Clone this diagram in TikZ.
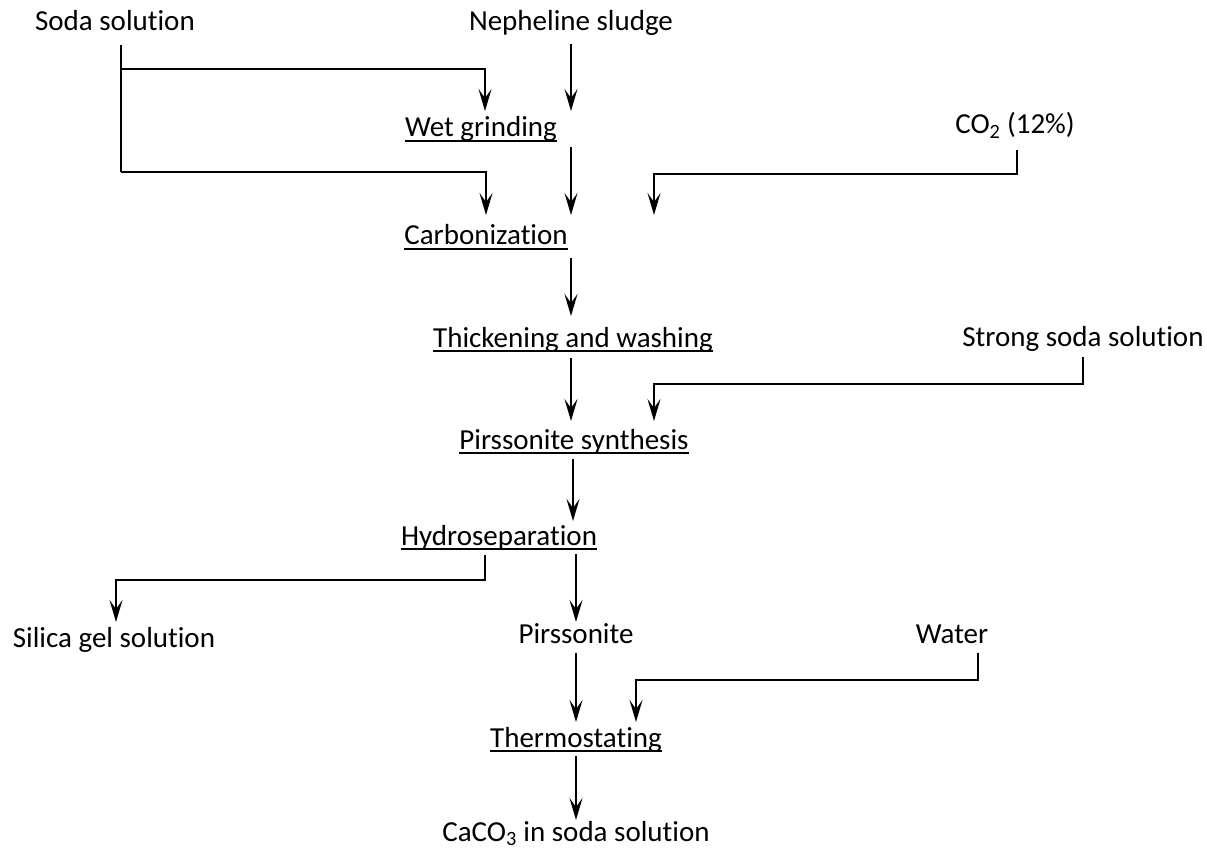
\documentclass[tikz,border=0pt]{standalone}
\usepackage{fontspec}
\setmainfont{Carlito}[Ligatures=NoCommon]
\usetikzlibrary{arrows.meta}
\tikzset{
  lbl/.style={inner sep=0pt, anchor=base, font=\fontsize{29pt}{34pt}\selectfont},
  ln/.style={line width=1.8pt},
  arr/.style={line width=1.8pt, -{Stealth[length=22pt,width=13pt,inset=9pt]}},
  ul/.style={line width=1.8pt}
}
\newcommand{\uln}[1]{\draw[ul] ([yshift=-4pt]#1.base west) -- ([yshift=-4pt]#1.base east);}
\begin{document}
\begin{tikzpicture}[x=1pt,y=-1pt]
\useasboundingbox (0,0) rectangle (1207,850);
% texts
\node[lbl] (soda) at (115,31) {Soda solution};
\node[lbl] (neph) at (571,31) {Nepheline sludge};
\node[lbl] (wet) at (481,137) {Wet grinding};
\node[lbl] (co2) at (1015,134) {CO\textsubscript{2} (12\%)};
\node[lbl] (carb) at (486,245) {Carbonization};
\node[lbl] (thick) at (573,347) {Thickening and washing};
\node[lbl] (strong) at (1083,346) {Strong soda solution};
\node[lbl] (pirs) at (574,449) {Pirssonite synthesis};
\node[lbl] (hydro) at (499,545) {Hydroseparation};
\node[lbl] (silica) at (114,647) {Silica gel solution};
\node[lbl] (pirsonite) at (576,643) {Pirssonite};
\node[lbl] (water) at (952,643) {Water};
\node[lbl] (thermo) at (576,747) {Thermostating};
\node[lbl] (caco) at (576,841) {CaCO\textsubscript{3} in soda solution};
% underlines
\uln{wet}
\uln{carb}
\uln{thick}
\uln{pirs}
\uln{hydro}
\uln{thermo}
% coordinates
\coordinate (s0) at (121,45);
\coordinate (s1) at (121,69);
\coordinate (s2) at (121,172);
\coordinate (wA) at (485,69);
\coordinate (wAt) at (485,111);
\coordinate (cA) at (486,172);
\coordinate (cAt) at (486,215);
\coordinate (n0) at (571,44);
\coordinate (n1) at (571,111);
\coordinate (w0) at (571,147);
\coordinate (w1) at (571,215);
\coordinate (k0) at (1017,150);
\coordinate (k1) at (1017,174);
\coordinate (k2) at (654,174);
\coordinate (k3) at (654,215);
\coordinate (c0) at (571,258);
\coordinate (c1) at (571,316);
\coordinate (t0) at (571,358);
\coordinate (t1) at (571,421);
\coordinate (g0) at (1083,357);
\coordinate (g1) at (1083,384);
\coordinate (g2) at (654,384);
\coordinate (g3) at (654,421);
\coordinate (p0) at (573,459);
\coordinate (p1) at (573,521);
\coordinate (h0) at (485,555);
\coordinate (h1) at (485,580);
\coordinate (h2) at (116,580);
\coordinate (h3) at (116,622);
\coordinate (h4) at (576,554);
\coordinate (h5) at (576,622);
\coordinate (q0) at (576,653);
\coordinate (q1) at (576,722);
\coordinate (v0) at (978,653);
\coordinate (v1) at (978,680);
\coordinate (v2) at (636,680);
\coordinate (v3) at (636,722);
\coordinate (m0) at (576,756);
\coordinate (m1) at (576,820);
% connectors
\draw[ln] (s0) -- (s2);
\draw[arr] (s1) -- (wA) -- (wAt);
\draw[arr] (s2) -- (cA) -- (cAt);
\draw[arr] (n0) -- (n1);
\draw[arr] (w0) -- (w1);
\draw[arr] (k0) -- (k1) -- (k2) -- (k3);
\draw[arr] (c0) -- (c1);
\draw[arr] (t0) -- (t1);
\draw[arr] (g0) -- (g1) -- (g2) -- (g3);
\draw[arr] (p0) -- (p1);
\draw[arr] (h0) -- (h1) -- (h2) -- (h3);
\draw[arr] (h4) -- (h5);
\draw[arr] (q0) -- (q1);
\draw[arr] (v0) -- (v1) -- (v2) -- (v3);
\draw[arr] (m0) -- (m1);
\end{tikzpicture}
\end{document}
